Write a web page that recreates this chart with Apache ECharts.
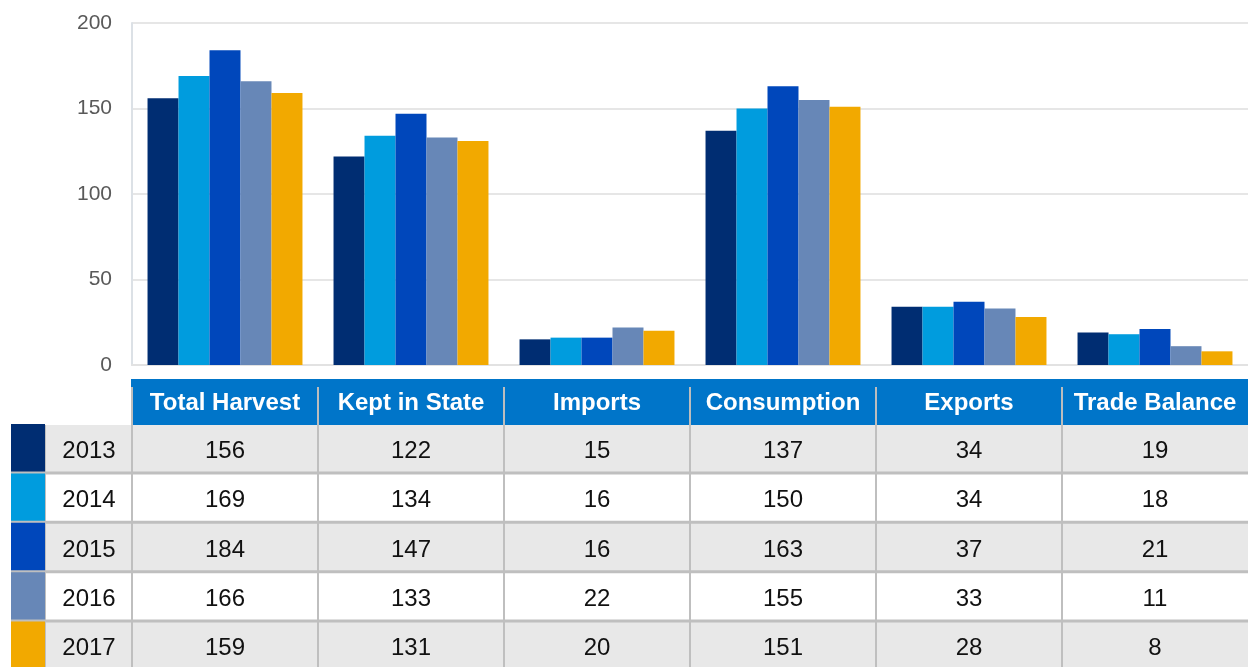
<!DOCTYPE html>
<html>
<head>
<meta charset="utf-8">
<script src="https://cdn.jsdelivr.net/npm/echarts@6/dist/echarts.min.js"></script>
<style>
html,body{margin:0;padding:0;background:#fff;}
#chart{width:1248px;height:667px;}
</style>
</head>
<body>
<div id="chart"></div>
<script>
const categories = ['Total Harvest', 'Kept in State', 'Imports', 'Consumption', 'Exports', 'Trade Balance'];
const years = ['2013', '2014', '2015', '2016', '2017'];
const v2013 = [156, 122, 15, 137, 34, 19];
const v2014 = [169, 134, 16, 150, 34, 18];
const v2015 = [184, 147, 16, 163, 37, 21];
const v2016 = [166, 133, 22, 155, 33, 11];
const v2017 = [159, 131, 20, 151, 28, 8];
const yearValues = [v2013, v2014, v2015, v2016, v2017];
const colors = ['#002D72', '#009CDE', '#0047BB', '#6787B7', '#F2A900'];

const FONT = '"Liberation Sans", Arial, sans-serif';
const chart = echarts.init(document.getElementById('chart'));

const series = years.map((y, i) => ({
  name: y,
  type: 'bar',
  data: yearValues[i],
  barGap: '0%',
  barCategoryGap: '16.7%',
  itemStyle: { color: colors[i] },
  silent: true
}));

chart.setOption({
  animation: false,
  grid: { left: 132, right: 0, top: 23, bottom: 302, containLabel: false },
  xAxis: {
    type: 'category',
    data: categories,
    axisLine: { show: true, lineStyle: { color: '#E2E2E2', width: 2 } },
    axisTick: { show: false },
    axisLabel: { show: false }
  },
  yAxis: {
    type: 'value',
    min: 0, max: 200, interval: 50,
    axisLine: { show: true, lineStyle: { color: '#DCE1E6', width: 2 } },
    axisTick: { show: false },
    splitLine: { lineStyle: { color: '#E6E6E6', width: 2 } },
    axisLabel: { color: '#595959', fontSize: 21, fontFamily: FONT, margin: 20 }
  },
  series: series
});

// Build the data table under the axis, aligned to the category bands
const c0 = chart.convertToPixel({ xAxisIndex: 0 }, categories[0]);
const c1 = chart.convertToPixel({ xAxisIndex: 0 }, categories[1]);
const band = c1 - c0;
const edges = categories.map((c, i) => chart.convertToPixel({ xAxisIndex: 0 }, c) - band / 2);
edges.push(edges[edges.length - 1] + band);

const headerTop = 379, headerBottom = 425, rowH = 49.4, sep = 3;
const tableRight = 1248;
const g = [];
// header band
g.push({ type: 'rect', silent: true, shape: { x: edges[0] - 1, y: headerTop, width: tableRight - edges[0] + 1, height: headerBottom - headerTop }, style: { fill: '#0075C9' } });
// header separators
edges.slice(0, categories.length).forEach(e => {
  g.push({ type: 'rect', silent: true, shape: { x: e - 1, y: headerTop + 8, width: 2, height: headerBottom - headerTop - 8 }, style: { fill: '#BDBDBD' } });
});
categories.forEach((c, i) => {
  g.push({ type: 'text', silent: true, style: { text: c, x: (edges[i] + edges[i + 1]) / 2, y: (headerTop + headerBottom) / 2 + 1, align: 'center', verticalAlign: 'middle', fill: '#FFFFFF', font: 'bold 24px ' + FONT } });
});
// body background (separator colour)
g.push({ type: 'rect', silent: true, shape: { x: 11, y: headerBottom, width: tableRight - 11, height: 667 - headerBottom }, style: { fill: '#BFBFBF' } });
years.forEach((yr, r) => {
  const y0 = headerBottom + r * rowH;
  const h = rowH - sep;
  const fill = r % 2 === 0 ? '#E8E8E8' : '#FFFFFF';
  // legend swatch
  g.push({ type: 'rect', silent: true, shape: { x: 11, y: y0 - 1, width: 34, height: h + 1 }, style: { fill: colors[r] } });
  // year cell
  g.push({ type: 'rect', silent: true, shape: { x: 46, y: y0, width: edges[0] - 1 - 46, height: h }, style: { fill: fill } });
  g.push({ type: 'text', silent: true, style: { text: yr, x: (46 + edges[0]) / 2, y: y0 + h / 2 + 3, align: 'center', verticalAlign: 'middle', fill: '#111111', font: '24px ' + FONT } });
  categories.forEach((c, i) => {
    const x0 = edges[i] + 1;
    const x1 = i === categories.length - 1 ? tableRight : edges[i + 1] - 1;
    g.push({ type: 'rect', silent: true, shape: { x: x0, y: y0, width: x1 - x0, height: h }, style: { fill: fill } });
    g.push({ type: 'text', silent: true, style: { text: String(yearValues[r][i]), x: (edges[i] + edges[i + 1]) / 2, y: y0 + h / 2 + 3, align: 'center', verticalAlign: 'middle', fill: '#111111', font: '24px ' + FONT } });
  });
});
chart.setOption({ graphic: g });
</script>
</body>
</html>
